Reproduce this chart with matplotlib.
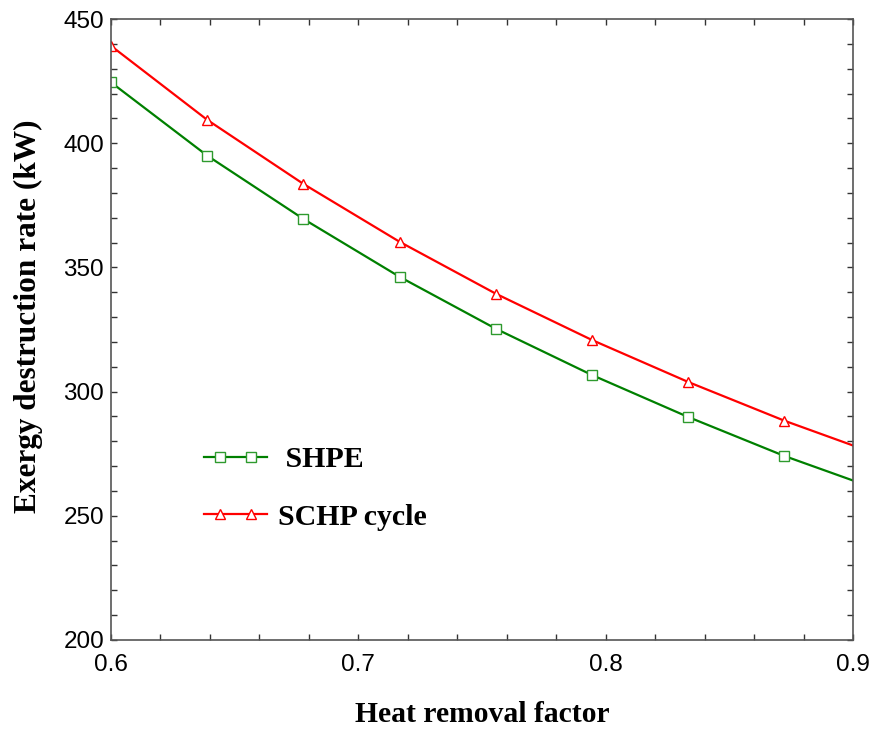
import numpy as np
import matplotlib
matplotlib.use("Agg")
import matplotlib.pyplot as plt
from matplotlib.lines import Line2D
from matplotlib.legend_handler import HandlerLine2D
from matplotlib.ticker import MultipleLocator

# dati
fattore = [0.6, 0.6389, 0.6778, 0.7167, 0.7556, 0.7944, 0.8333, 0.8722, 0.9]
shpe = [424.5, 395.0, 369.5, 346.2, 325.3, 306.7, 289.8, 274.1, 264.2]
schp = [439.2, 409.4, 383.6, 360.3, 339.4, 320.8, 303.9, 288.3, 278.3]


# linea di legenda lunga con due soli marker interni
class DueMarker(HandlerLine2D):
    def create_artists(self, *args, **kwargs):
        artisti = super().create_artists(*args, **kwargs)
        artisti[-1].set_markevery([1, 3])
        return artisti


fig = plt.figure(figsize=(8.74, 7.31), dpi=100)
ax = fig.add_axes([0.127, 0.1245, 0.849, 0.8495])

stile_shpe = dict(color="#008000", lw=1.6, marker="s", ms=6.5,
                  mfc="white", mec="#2e9a2e", mew=1.0)
stile_schp = dict(color="#ff0000", lw=1.6, marker="^", ms=6.5,
                  mfc="white", mec="#ff0000", mew=1.0)

l1, = ax.plot(fattore, shpe, markevery=list(range(8)), **stile_shpe)
l2, = ax.plot(fattore, schp, markevery=list(range(8)), **stile_schp)

ax.set_xlim(0.6, 0.9)
ax.set_ylim(200, 450)
ax.xaxis.set_major_locator(MultipleLocator(0.1))
ax.xaxis.set_minor_locator(MultipleLocator(0.02))
ax.yaxis.set_major_locator(MultipleLocator(50))
ax.yaxis.set_minor_locator(MultipleLocator(10))

ax.tick_params(which="both", direction="in", top=True, right=True,
               length=4, width=1, color="#333333", labelsize=17.5,
               labelfontfamily="Liberation Sans")
ax.tick_params(axis="x", which="major", pad=10)
ax.tick_params(axis="y", which="major", pad=5)
for s in ax.spines.values():
    s.set_color("#555555")
    s.set_linewidth(1.2)

ax.set_xlabel("Heat removal factor", family="Liberation Serif",
              weight="bold", size=21.3, labelpad=18)
ax.set_ylabel("Exergy destruction rate (kW)", family="Liberation Serif",
              weight="bold", size=22.5)
ax.yaxis.set_label_coords(-0.092, 0.522)

h1 = Line2D([], [], **stile_shpe)
h2 = Line2D([], [], **stile_schp)
ax.legend([h1, h2], [" SHPE", "SCHP cycle"], loc="upper left",
          bbox_to_anchor=(0.113, 0.3116), frameon=False, numpoints=5,
          handlelength=2.71, handletextpad=0.07, labelspacing=1.01,
          borderpad=0, borderaxespad=0,
          handler_map={Line2D: DueMarker()},
          prop=dict(family="Liberation Serif", weight="bold", size=21.5))

plt.savefig("out.png", dpi=100)
